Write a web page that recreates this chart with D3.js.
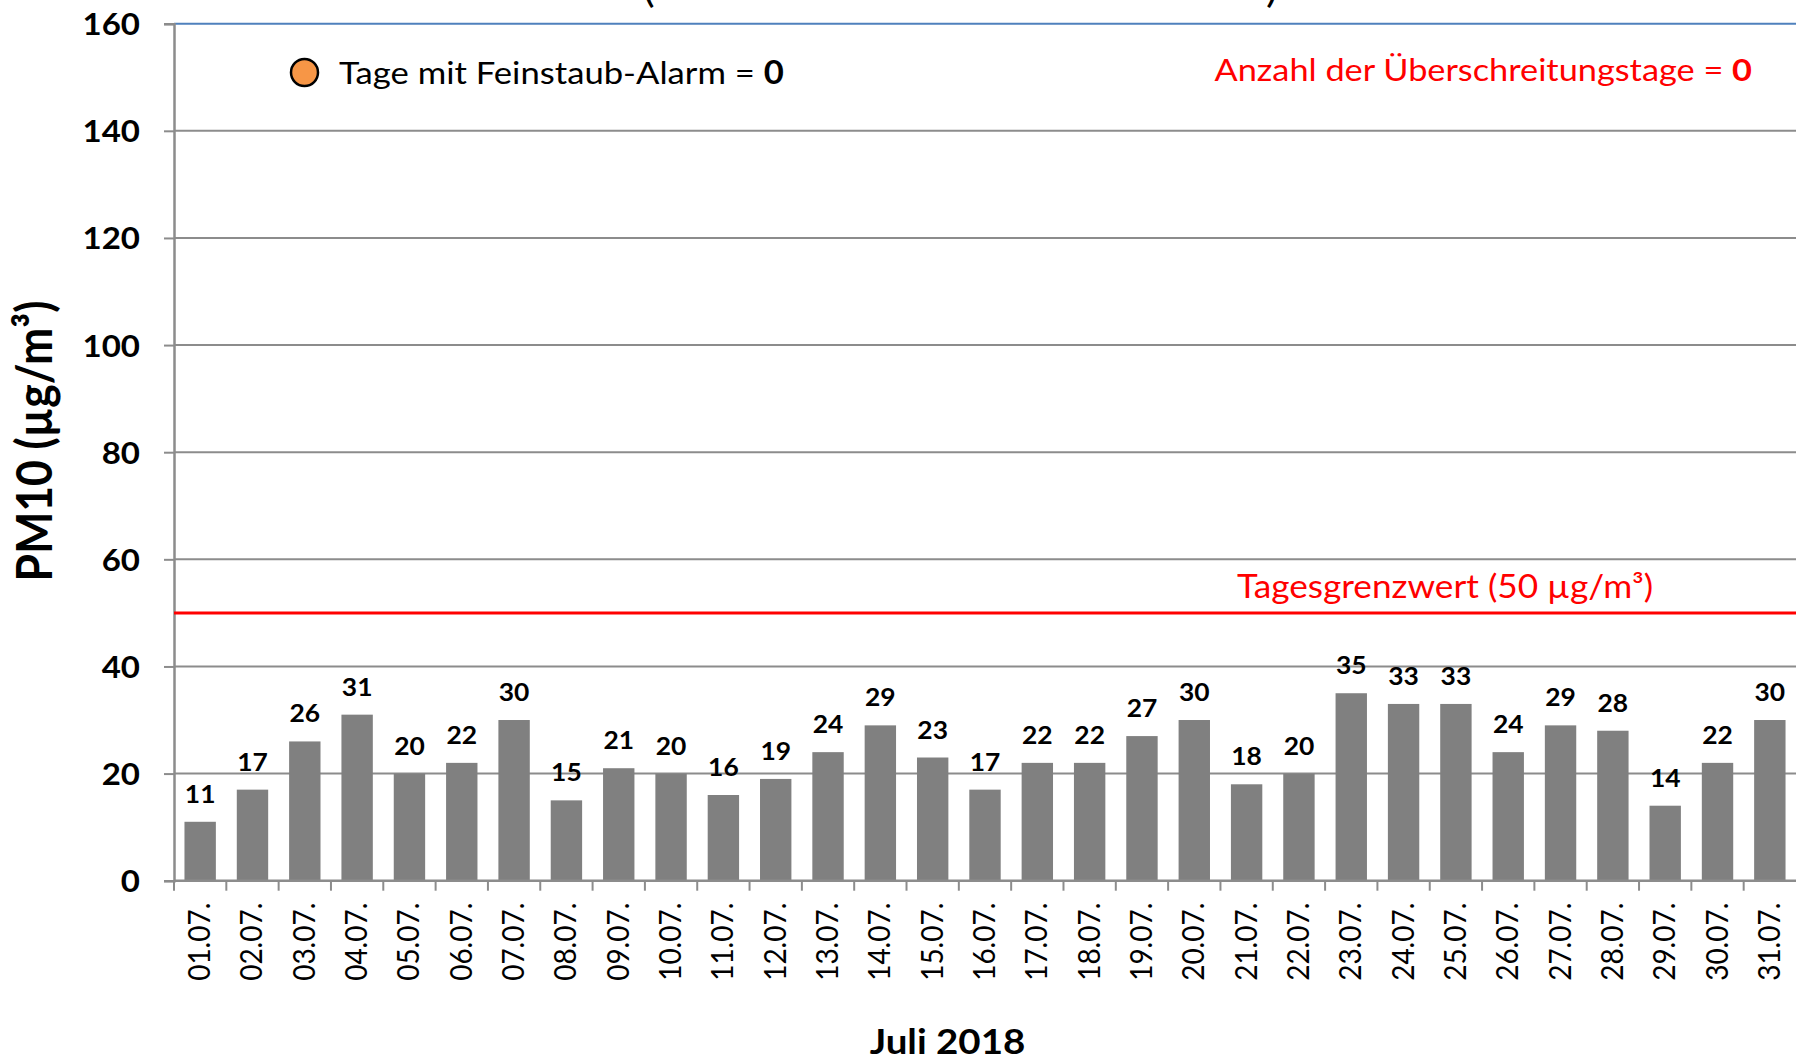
<!DOCTYPE html>
<html>
<head>
<meta charset="utf-8">
<script src="https://cdn.jsdelivr.net/npm/d3@7"></script>
<style>
  body { margin: 0; background: #fff; }
  text { font-family: Lato, "Open Sans", sans-serif; }
</style>
</head>
<body>
<svg id="chart"></svg>
<script>
// days of July 2018 and PM10 daily means
const days = ["01.07.", "02.07.", "03.07.", "04.07.", "05.07.", "06.07.", "07.07.", "08.07.",
  "09.07.", "10.07.", "11.07.", "12.07.", "13.07.", "14.07.", "15.07.", "16.07.", "17.07.",
  "18.07.", "19.07.", "20.07.", "21.07.", "22.07.", "23.07.", "24.07.", "25.07.", "26.07.",
  "27.07.", "28.07.", "29.07.", "30.07.", "31.07."];
const pm10 = [11, 17, 26, 31, 20, 22, 30, 15, 21, 20, 16, 19, 24, 29, 23, 17, 22, 22, 27, 30,
  18, 20, 35, 33, 33, 24, 29, 28, 14, 22, 30];
const yTicks = [0, 20, 40, 60, 80, 100, 120, 140, 160];
const limitValue = 50;
const alarmDays = 0;
const exceedDays = 0;

const width = 1796, height = 1062;
const margin = { top: 23.7, right: 0, bottom: 181.3, left: 174 };
const sx = 1.1; // the source picture is a bit wider than tall

const svg = d3.select("#chart")
    .attr("width", width)
    .attr("height", height);

const x = d3.scaleBand()
    .domain(days)
    .range([margin.left, width - margin.right])
    .paddingInner(0.4)
    .paddingOuter(0.2);

const y = d3.scaleLinear()
    .domain([0, 160])
    .range([height - margin.bottom, margin.top]);

function place(x0, y0, rot) {
    return "translate(" + x0 + "," + y0 + ") scale(" + sx + ",1)" + (rot ? " rotate(-90)" : "");
}

// gridlines
svg.append("g")
    .selectAll("line")
    .data(yTicks.filter(d => d > 0))
    .enter().append("line")
    .attr("x1", margin.left)
    .attr("x2", width)
    .attr("y1", d => y(d))
    .attr("y2", d => y(d))
    .attr("stroke", d => d === 160 ? "#4f81bd" : "#8c8c8c")
    .attr("stroke-width", 2);

// y axis
const yAxis = svg.append("g")
    .attr("transform", "translate(" + margin.left + ",0)")
    .call(d3.axisLeft(y).tickValues(yTicks).tickSize(10).tickPadding(24));
yAxis.select(".domain").attr("stroke", "#8c8c8c").attr("stroke-width", 2.5);
yAxis.selectAll(".tick line").attr("stroke", "#8c8c8c").attr("stroke-width", 2);
yAxis.selectAll(".tick text").remove();
yAxis.selectAll(".tick").append("text")
    .attr("transform", d => place(-34, 11, false))
    .attr("text-anchor", "end")
    .attr("font-size", 30)
    .attr("font-weight", "bold")
    .attr("fill", "#000")
    .text(d => d);

// bars
svg.append("g")
    .selectAll("rect")
    .data(pm10)
    .enter().append("rect")
    .attr("x", (d, i) => x(days[i]))
    .attr("y", d => y(d))
    .attr("width", x.bandwidth())
    .attr("height", d => y(0) - y(d))
    .attr("fill", "#808080");

// value labels
svg.append("g")
    .selectAll("text")
    .data(pm10)
    .enter().append("text")
    .attr("transform", (d, i) => place(x(days[i]) + x.bandwidth() / 2, y(d) - 19, false))
    .attr("text-anchor", "middle")
    .attr("font-size", 24)
    .attr("font-weight", "bold")
    .text(d => d);

// x axis
const step = x.step();
const xAxis = svg.append("g")
    .attr("transform", "translate(0," + y(0) + ")");
xAxis.append("line")
    .attr("x1", margin.left).attr("x2", width)
    .attr("stroke", "#8c8c8c").attr("stroke-width", 2.5);
xAxis.selectAll(".tk")
    .data(days)
    .enter().append("line")
    .attr("class", "tk")
    .attr("x1", (d, i) => margin.left + i * step)
    .attr("x2", (d, i) => margin.left + i * step)
    .attr("y1", 0).attr("y2", 10)
    .attr("stroke", "#8c8c8c").attr("stroke-width", 2);
xAxis.selectAll(".lbl")
    .data(days)
    .enter().append("text")
    .attr("class", "lbl")
    .attr("transform", d => place(x(d) + x.bandwidth() / 2 + 10, 22, true))
    .attr("text-anchor", "end")
    .attr("font-size", 28)
    .text(d => d);

// limit line
svg.append("line")
    .attr("x1", margin.left).attr("x2", width)
    .attr("y1", y(limitValue)).attr("y2", y(limitValue))
    .attr("stroke", "#ff0000").attr("stroke-width", 3);

svg.append("text")
    .attr("transform", place(1237, 598, false))
    .attr("font-size", 32)
    .attr("fill", "#ff0000")
    .text("Tagesgrenzwert (" + limitValue + " µg/m³)");

// annotations
const ex = svg.append("text")
    .attr("transform", place(1752, 80.5, false))
    .attr("text-anchor", "end")
    .attr("font-size", 31.2)
    .attr("fill", "#ff0000");
ex.append("tspan").text("Anzahl der Überschreitungstage = ");
ex.append("tspan").attr("font-weight", "bold").text(exceedDays);

svg.append("circle")
    .attr("cx", 304.5).attr("cy", 72.5).attr("r", 13.5)
    .attr("fill", "#f79646").attr("stroke", "#000").attr("stroke-width", 2.5);
const al = svg.append("text")
    .attr("transform", place(339, 83.5, false))
    .attr("font-size", 31.5)
    .attr("fill", "#000");
al.append("tspan").text("Tage mit Feinstaub-Alarm = ");
al.append("tspan").attr("font-weight", "bold").text(alarmDays);

// title is cut off at the top edge; only the brackets reach into view
svg.append("text").attr("transform", place(643, 2, false))
    .attr("font-size", 40).text("(");
svg.append("text").attr("transform", place(1266, 2, false))
    .attr("font-size", 40).text(")");

// axis titles
svg.append("text")
    .attr("transform", place(52, 441, true))
    .attr("text-anchor", "middle")
    .attr("font-size", 44.5)
    .attr("font-weight", "bold")
    .text("PM10 (µg/m³)");

svg.append("text")
    .attr("transform", place(947.5, 1054, false))
    .attr("text-anchor", "middle")
    .attr("font-size", 35)
    .attr("font-weight", "bold")
    .text("Juli 2018");
</script>
</body>
</html>
